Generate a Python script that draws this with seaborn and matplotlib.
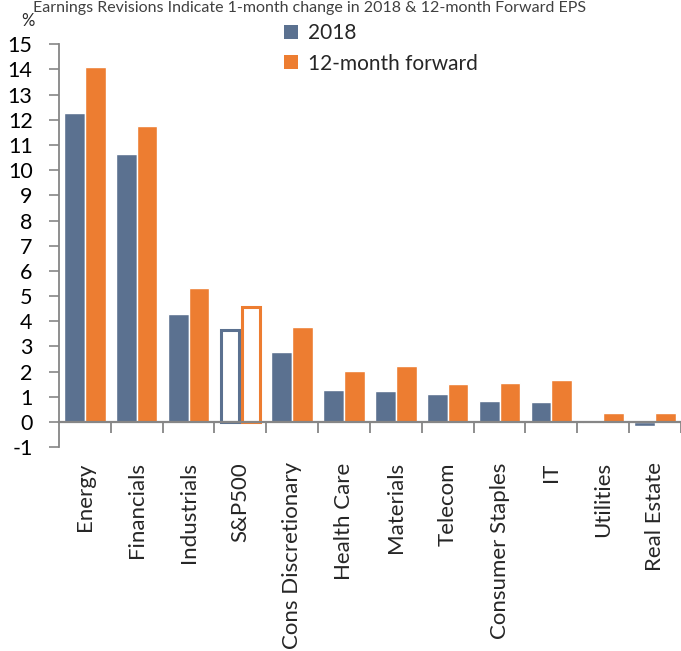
import matplotlib
matplotlib.use("Agg")
import matplotlib.pyplot as plt
import seaborn as sns
import pandas as pd
from matplotlib.patches import Patch

categories = ["Energy", "Financials", "Industrials", "S&P500", "Cons Discretionary",
              "Health Care", "Materials", "Telecom", "Consumer Staples", "IT",
              "Utilities", "Real Estate"]
vals_2018 = [12.26, 10.63, 4.29, 3.65, 2.78, 1.27, 1.23, 1.11, 0.83, 0.79, -0.05, -0.17]
vals_fwd = [14.09, 11.75, 5.32, 4.56, 3.77, 2.02, 2.22, 1.51, 1.55, 1.67, 0.36, 0.36]
series = ["2018", "12-month forward"]
yticks = list(range(-1, 16))

sns.set_style("white")
plt.rcParams['font.family'] = ['Lato', 'DejaVu Sans']

df = pd.DataFrame({
    "cat": categories * 2,
    "val": vals_2018 + vals_fwd,
    "series": [series[0]] * len(categories) + [series[1]] * len(categories),
})

c_blue = "#5B7190"
c_orange = "#ED7D31"

fig = plt.figure(figsize=(6.81, 6.51), dpi=100)
ax = fig.add_axes([0.0866, 0.313, 0.9134, 0.619])
sns.barplot(data=df, x="cat", y="val", hue="series", palette=[c_blue, c_orange],
            width=0.8, ax=ax, legend=False, saturation=1)

# hollow S&P500 bars
sp_idx = categories.index("S&P500")
n = len(categories)
for i, p in enumerate(ax.patches[:2 * n]):
    if i % n == sp_idx:
        col = c_blue if i < n else c_orange
        p.set_facecolor("white")
        p.set_edgecolor(col)
        p.set_linewidth(2.2)
        w = p.get_width()
        p.set_x(p.get_x() + 0.03)
        p.set_width(w - 0.06)

ax.set_ylim(-1, 15)
ax.set_xlim(-0.5, n - 0.5)
ax.set_yticks(yticks)
ax.set_yticklabels([str(t) for t in yticks], fontsize=15.5, color="#000000")
ax.set_xlabel("")
ax.set_ylabel("")

for s in ["top", "right"]:
    ax.spines[s].set_visible(False)
ax.spines["left"].set_color("#868686")
ax.spines["left"].set_linewidth(1.3)
ax.spines["bottom"].set_position(("data", 0))
ax.spines["bottom"].set_color("#868686")
ax.spines["bottom"].set_linewidth(1.6)

ax.tick_params(axis="y", direction="out", length=7, width=1.2, color="#868686", pad=12, left=True)
ax.set_xticks(range(n))
ax.set_xticklabels(categories, rotation=90, fontsize=16, va="top", ha="center")
ax.tick_params(axis="x", which="major", length=0, pad=29)
ax.set_xticks([i + 0.5 for i in range(n)], minor=True)
ax.tick_params(axis="x", which="minor", direction="out", length=8, width=1.3,
               color="#868686", bottom=True)

fig.text(0.041, 0.968, "%", fontsize=12, ha="center", va="center")
fig.text(0.455, 0.999, "Earnings Revisions Indicate 1-month change in 2018 & 12-month Forward EPS",
         fontsize=11.5, color="#404040", ha="center", va="top")

handles = [Patch(facecolor=c_blue, edgecolor="none"), Patch(facecolor=c_orange, edgecolor="none")]
fig.legend(handles, series, loc="upper left", bbox_to_anchor=(0.405, 0.977), frameon=False,
           fontsize=15, handlelength=0.65, handleheight=0.65, handletextpad=0.5,
           labelspacing=0.5, borderaxespad=0)

fig.savefig("out.png", dpi=100)
